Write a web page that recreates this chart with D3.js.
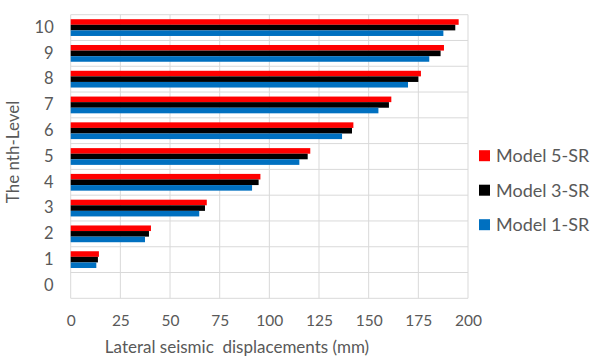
<!DOCTYPE html>
<html><head><meta charset="utf-8">
<script src="https://cdn.jsdelivr.net/npm/d3@7"></script>
<style>body{margin:0;background:#fff}svg{display:block}</style>
</head><body>
<script>
const levels = ["0","1","2","3","4","5","6","7","8","9","10"];
const seriesNames = ["Model 5-SR","Model 3-SR","Model 1-SR"];
const model5 = [0,14.2,40.4,68.5,95.5,120.6,142.3,161.4,176.3,187.9,195.3];
const model3 = [0,13.7,39.4,67.6,94.6,119.3,141.6,160.2,175.0,186.2,193.6];
const model1 = [0,12.9,37.4,64.7,91.3,115.1,136.6,154.9,169.8,180.5,187.6];
const colors = ["#ff0000","#000000","#0070c0"];
const xTicks = [0,25,50,75,100,125,150,175,200];

const W=593,H=360;
const L=70.7,R=468,T=14.7,B=298.3;
const font="Lato, 'Open Sans', sans-serif";
const svg=d3.select("body").append("svg").attr("width",W).attr("height",H);

const x=d3.scaleLinear().domain([0,200]).range([L,R]);
const y=d3.scaleBand().domain(levels.slice().reverse()).range([T,B]).paddingInner(0.35).paddingOuter(0.175);
const yOuter=d3.scaleBand().domain(levels.slice().reverse()).range([T,B]);
const ys=d3.scaleBand().domain(seriesNames).range([0,y.bandwidth()]);
const grid="#d9d9d9";

svg.append("g").selectAll("line").data(xTicks).join("line")
  .attr("x1",d=>x(d)).attr("x2",d=>x(d)).attr("y1",T).attr("y2",B)
  .attr("stroke",grid).attr("stroke-width",1);
const hb=levels.map(l=>yOuter(l)).concat([B]);
svg.append("g").selectAll("line").data(hb).join("line")
  .attr("x1",L).attr("x2",R).attr("y1",d=>d).attr("y2",d=>d)
  .attr("stroke",grid).attr("stroke-width",1);

const series=[model5,model3,model1];
series.forEach((vals,si)=>{
  svg.append("g").selectAll("rect").data(levels.map((l,i)=>({l,v:vals[i]}))).join("rect")
    .attr("x",x(0)).attr("width",d=>x(d.v)-x(0))
    .attr("y",d=>y(d.l)+ys(seriesNames[si])).attr("height",ys.bandwidth())
    .attr("fill",colors[si]);
});

const xa=svg.append("g").attr("transform",`translate(0,${B})`)
  .call(d3.axisBottom(x).tickValues(xTicks).tickSize(0).tickPadding(17));
xa.select(".domain").remove();
xa.selectAll("text").attr("font-family",font).attr("font-size",15.5).attr("fill","#595959");
const ya=svg.append("g").attr("transform",`translate(${L},0)`)
  .call(d3.axisLeft(yOuter).tickSize(0).tickPadding(17));
ya.select(".domain").remove();
ya.selectAll("text").attr("font-family",font).attr("font-size",16.5).attr("fill","#595959");

svg.append("text").attr("x",237).attr("y",353).attr("text-anchor","middle")
  .attr("font-family",font).attr("font-size",17).attr("fill","#595959")
  .attr("xml:space","preserve").text("Lateral seismic  displacements (mm)");
svg.append("text").attr("transform","translate(19,152) rotate(-90)").attr("text-anchor","middle")
  .attr("font-family",font).attr("font-size",17).attr("fill","#595959").text("The nth-Level");

const lg=svg.append("g").selectAll("g").data(seriesNames).join("g")
  .attr("transform",(d,i)=>`translate(479,${155.7+i*34.5})`);
lg.append("rect").attr("x",0).attr("y",-5.5).attr("width",11).attr("height",11).attr("fill",(d,i)=>colors[i]);
lg.append("text").attr("x",17).attr("y",0).attr("dy","0.35em")
  .attr("font-family",font).attr("font-size",18).attr("fill","#595959").text(d=>d);
</script>
</body></html>
